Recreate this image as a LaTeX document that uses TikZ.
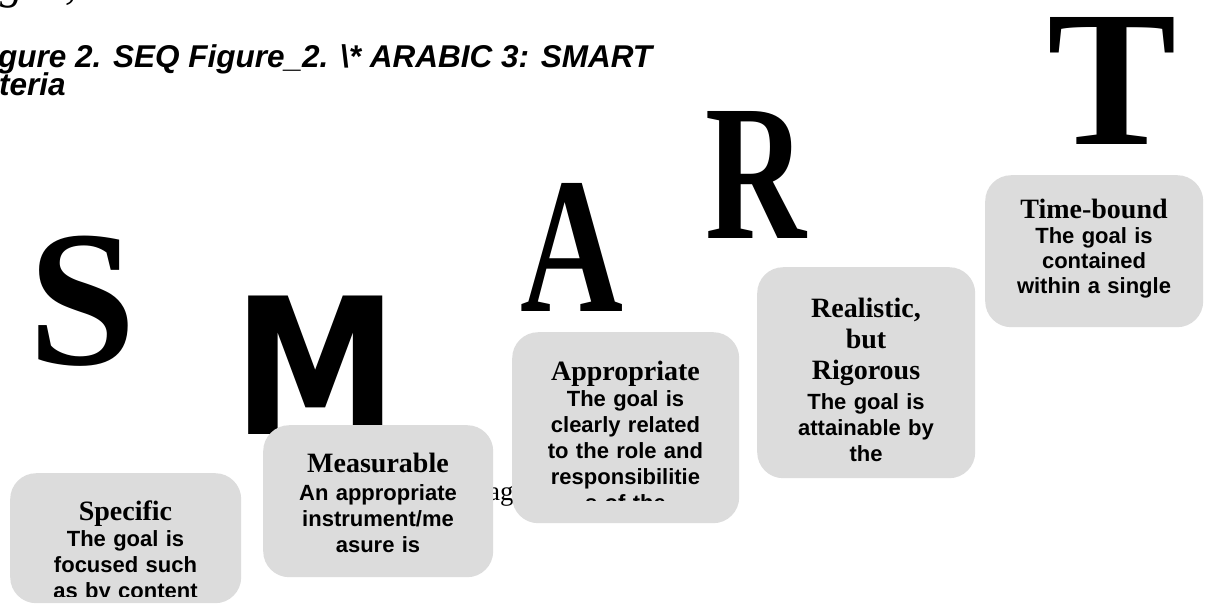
\documentclass[tikz,border=0pt]{standalone}
\usepackage{graphicx}
\usepackage{fontspec}
\setmainfont{Liberation Serif}
\newfontfamily\arialf{Liberation Sans}
\newfontfamily\timesf{Liberation Serif}
\newfontfamily\dejavuf{DejaVu Sans}
\definecolor{boxgray}{RGB}{220,220,220}
\tikzset{
  bigletter/.style={anchor=base west, inner sep=0pt, outer sep=0pt, font=\timesf\bfseries\fontsize{194}{200}\selectfont},
  bigsans/.style={anchor=base west, inner sep=0pt, outer sep=0pt, font=\dejavuf\bfseries\fontsize{190}{200}\selectfont},
  smartbox/.style={fill=boxgray, rounded corners=26pt, inner sep=0pt, anchor=north west},
  boxtitle/.style={anchor=base, inner sep=0pt, text width=210pt, align=center, font=\timesf\bfseries\fontsize{28}{31}\selectfont},
  boxbody/.style={anchor=base, inner sep=0pt, text width=210pt, align=center, font=\arialf\bfseries\fontsize{22}{26}\selectfont},
  captiontext/.style={anchor=base west, inner sep=0pt, font=\arialf\bfseries\itshape\fontsize{31.5}{30}\selectfont},
  stray/.style={anchor=base west, inner sep=0pt},
}
\begin{document}
\begin{tikzpicture}[x=1pt,y=1pt]
\useasboundingbox (0,0) rectangle (1207,-603);
\clip (0,0) rectangle (1207,-603);
\fill[white] (0,0) rectangle (1207,-603);

% clipped fragments of the line above
\node[stray, font=\timesf\itshape\fontsize{46}{48}\selectfont] (topg) at (0,2) {g};
\node[stray, font=\timesf\itshape\fontsize{46}{48}\selectfont] (topcomma) at (65,2) {,};

% caption
\node[captiontext] (cap1) at (-2,-67) {gure 2. SEQ Figure\_2. \textbackslash* ARABIC 3: SMART};
\node[captiontext] (cap2) at (-1,-95) {teria};

% big letters
\node[bigletter] (bigS) at (28,-364) {S};
\node[bigsans]   (bigM) at (233,-434) {\scalebox{0.87}[1]{M}};
\node[bigletter] (bigA) at (520,-311) {\scalebox{0.735}[1]{A}};
\node[bigletter] (bigR) at (705,-238) {\scalebox{0.72}[1]{R}};
\node[bigletter] (bigT) at (1047,-144) {T};

% stray text behind boxes
\node[stray, font=\timesf\fontsize{27}{30}\selectfont] (agtext) at (488,-500) {ag};

% boxes
\node[smartbox, minimum width=231pt, minimum height=130pt] (boxS) at (10,-473) {};
\node[smartbox, minimum width=230pt, minimum height=152pt] (boxM) at (263,-425) {};
\node[smartbox, minimum width=227pt, minimum height=191pt] (boxA) at (512,-332) {};
\node[smartbox, minimum width=218pt, minimum height=211pt] (boxR) at (757,-267) {};
\node[smartbox, minimum width=218pt, minimum height=152pt] (boxT) at (985,-175) {};

% Specific
\begin{scope}
\clip (10,-473) rectangle (241,-596);
\node[boxtitle] (titleS) at (125.5,-520) {Specific};
\node[boxbody] (bodyS) at (125.5,-546) {The goal is\\focused such\\as by content};
\end{scope}

% Measurable
\begin{scope}
\clip (263,-425) rectangle (493,-566);
\node[boxtitle] (titleM) at (378,-472) {Measurable};
\node[boxbody] (bodyM) at (378,-500) {An appropriate\\instrument/me\\asure is};
\end{scope}

% Appropriate
\begin{scope}
\clip (512,-332) rectangle (739,-500);
\node[boxtitle] (titleA) at (625.5,-380) {Appropriate};
\node[boxbody] (bodyA) at (625.5,-406) {The goal is\\clearly related\\to the role and\\responsibilitie\\s of the};
\end{scope}

% Realistic
\begin{scope}
\clip (757,-267) rectangle (975,-466);
\node[boxtitle] (titleR) at (866,-317) {Realistic,\\but\\Rigorous};
\node[boxbody] (bodyR) at (866,-409) {The goal is\\attainable by\\the};
\end{scope}

% Time-bound
\begin{scope}
\clip (985,-175) rectangle (1203,-318);
\node[boxtitle] (titleT) at (1094,-218) {Time-bound};
\node[boxbody, font=\arialf\bfseries\fontsize{22}{25}\selectfont] (bodyT) at (1094,-243) {The goal is\\contained\\within a single};
\end{scope}
\end{tikzpicture}
\end{document}
